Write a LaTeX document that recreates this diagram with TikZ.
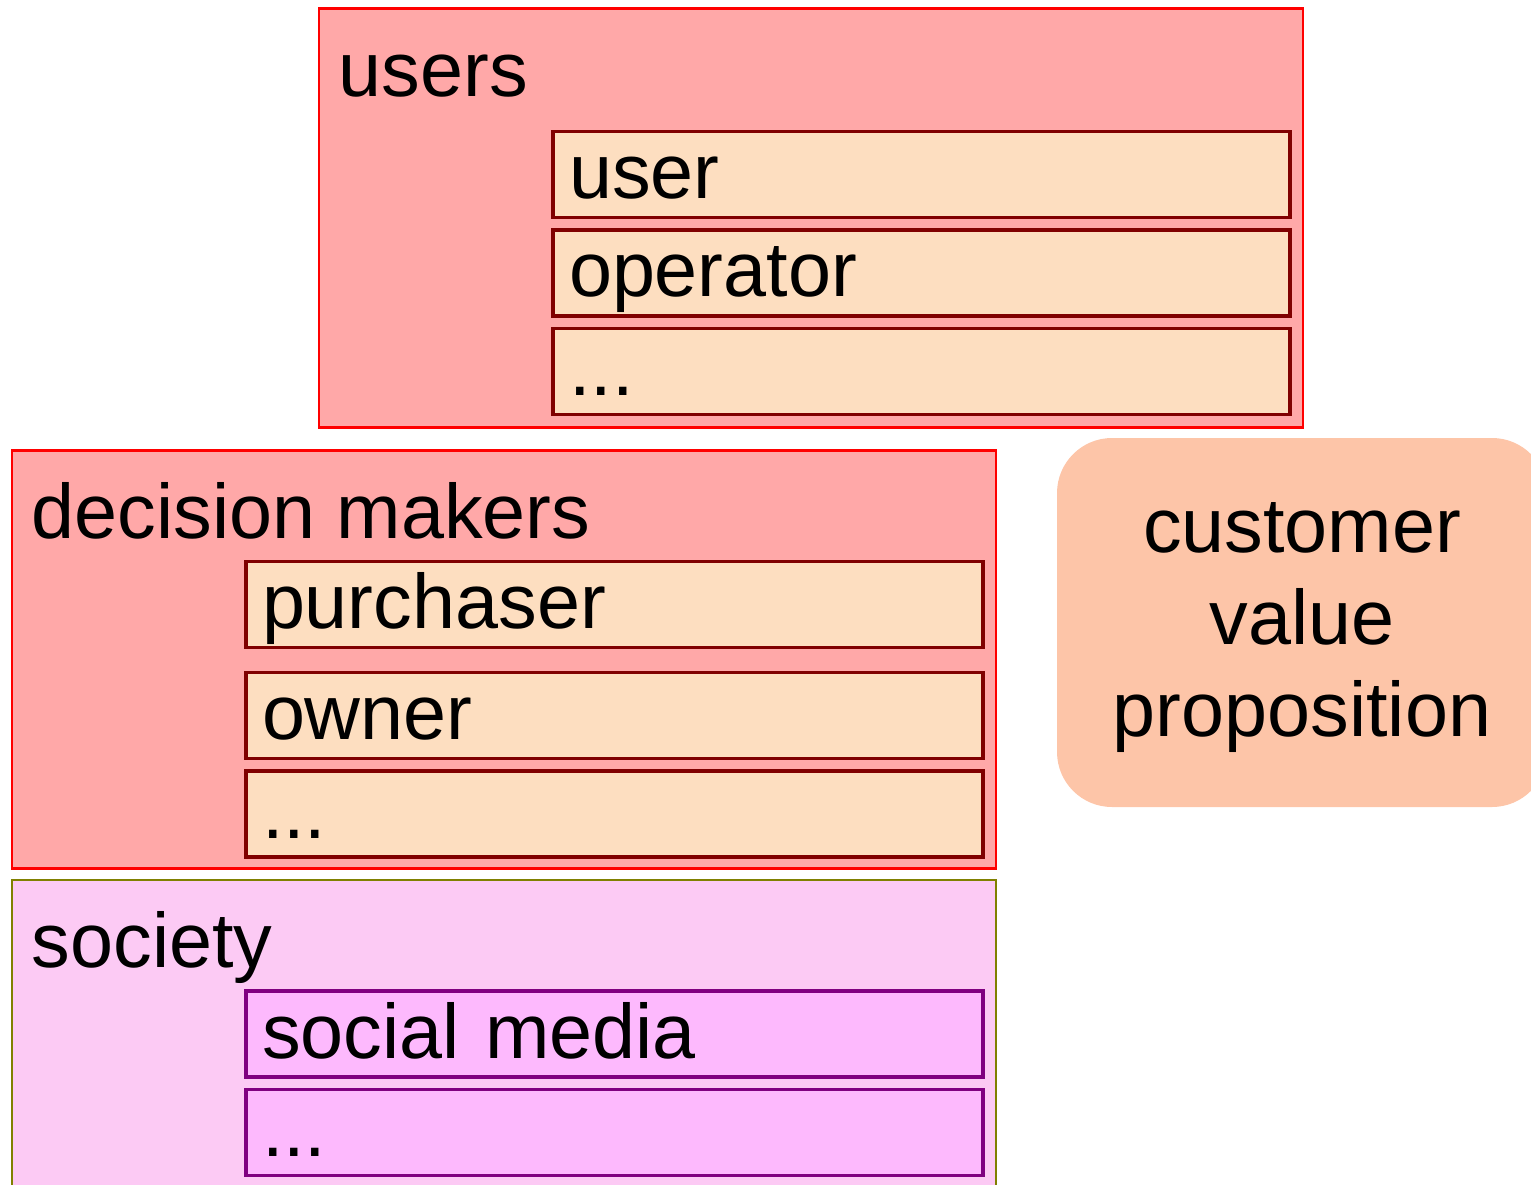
\documentclass[tikz,border=0pt]{standalone}
\usepackage{fontspec}
\setmainfont{Liberation Sans}
\usetikzlibrary{positioning}

\definecolor{grpfill}{HTML}{FFA8A8}
\definecolor{itemfill}{HTML}{FDDEC0}
\definecolor{itemline}{HTML}{800000}
\definecolor{socfill}{HTML}{FCCAF4}
\definecolor{socline}{HTML}{808000}
\definecolor{smfill}{HTML}{FDB9FD}
\definecolor{smline}{HTML}{800080}
\definecolor{cvpfill}{HTML}{FDC5A8}

\begin{document}
\begin{tikzpicture}[font=\fontsize{22}{26.2}\selectfont,
	group/.style={draw=red,fill=grpfill,line width=0.8pt,anchor=north west,outer sep=0pt,
		minimum width=9.84cm,minimum height=4.19cm,inner sep=0pt},
	head/.style={anchor=base west,inner sep=0pt},
	item/.style={draw=itemline,fill=itemfill,line width=0.9pt,outer sep=0pt,
		text width=7.05cm,inner xsep=0.16cm,inner ysep=0pt,align=left,
		text height=0.67cm,text depth=0.19cm,minimum height=0.86cm},
	smitem/.style={item,draw=smline,fill=smfill},
	cvpbox/.style={fill=cvpfill,rounded corners=0.55cm,minimum width=4.9cm,
		minimum height=3.69cm,inner sep=0pt}]
	\useasboundingbox (0,0) rectangle (15.31,-11.84);
	\clip (0,0) rectangle (15.31,-11.84);

	% users
	\node[group]	(users)	at (3.19,-0.085)	{};
	\node[head]	(usersT)	at ([shift={(0.19,-0.885)}]users.north west)	{users};
	\node[item]	(user)	[below left=1.23cm and 0.13cm of users.north east]	{user};
	\node[item]	(oper)	[below=0.125cm of user]	{operator};
	\node[item]	(udots)	[below=0.125cm of oper]	{...};

	% decision makers
	\node[group,minimum height=4.18cm]	(dm)	at (0.12,-4.505)	{};
	\node[head]	(dmT)	at ([shift={(0.19,-0.875)}]dm.north west)	{decision makers};
	\node[item]	(purch)	[below left=1.11cm and 0.13cm of dm.north east]	{purchaser};
	\node[item]	(owner)	[below=0.25cm of purch]	{owner};
	\node[item]	(ddots)	[below=0.125cm of owner]	{...};

	% society
	\node[group,draw=socline,fill=socfill,minimum height=3.07cm]	(soc)	at (0.12,-8.80)	{};
	\node[head]	(socT)	at ([shift={(0.19,-0.87)}]soc.north west)	{society};
	\node[smitem]	(smedia)	[below left=1.11cm and 0.13cm of soc.north east]	{social media};
	\node[smitem]	(sdots)	[below=0.125cm of smedia]	{...};

	% value proposition
	\node[cvpbox]	(cvp)	at (13.02,-6.225)	{};
	\node[align=center,inner sep=0pt]	(cvpT)	at ([yshift=-0.05cm]cvp.center)	{customer\\value\\proposition};
\end{tikzpicture}
\end{document}
